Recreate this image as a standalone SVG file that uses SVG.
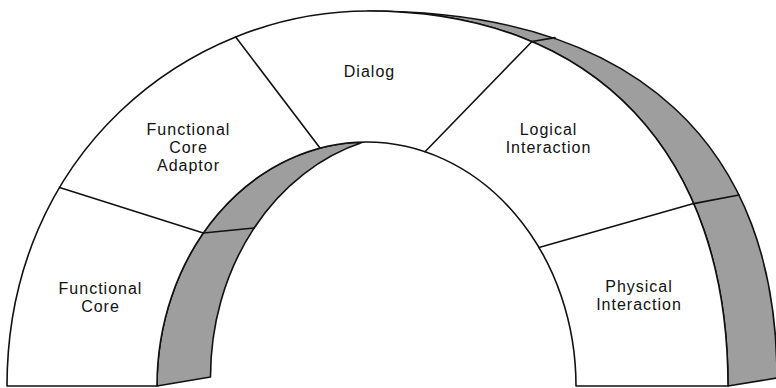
<svg xmlns="http://www.w3.org/2000/svg" width="776" height="388" viewBox="0 0 776 388">
  <style>
    .edge { fill: none; stroke: #111; stroke-width: 1.6; stroke-linejoin: round; stroke-linecap: round; }
    .band { fill: #9e9e9e; stroke: #111; stroke-width: 1.6; stroke-linejoin: round; }
    .face { fill: #ffffff; stroke: #111; stroke-width: 1.6; stroke-linejoin: round; }
    .lbl { font-family: "Liberation Sans", Arial, Helvetica, sans-serif; font-size: 16px; letter-spacing: 1px; fill: #111; text-anchor: middle; }
  </style>
  <rect width="776" height="388" fill="#ffffff"/>

  <g id="arch">
    <!-- shaded side surfaces -->
    <path class="band" d="M157,386 A209.5,244 0 0 1 363.5,142.1 A209.5,244 0 0 0 210.5,377 Z"/>
    <path class="band" d="M368,11 C598,11 728,156 728,386 L777,378 C777,148 640,11 368,11 Z"/>
    <!-- front face -->
    <path class="face" d="M7,386 C7,154 188,11 368,11 C598,11 728,156 728,386 L576,386 A209.5,244 0 0 0 157,386 Z"/>
  </g>

  <g id="connectors">
    <line class="edge" x1="59.6" y1="187.6" x2="203.3" y2="233"/>
    <line class="edge" x1="235.7" y1="37" x2="320" y2="148"/>
    <line class="edge" x1="532" y1="41.5" x2="425" y2="151.7"/>
    <line class="edge" x1="693.6" y1="203.6" x2="539" y2="247.5"/>
    <line class="edge" x1="203.3" y1="233" x2="254" y2="228"/>
    <line class="edge" x1="532" y1="41.5" x2="555" y2="37.6"/>
    <line class="edge" x1="693.6" y1="203.6" x2="739" y2="195"/>
  </g>

  <g id="functional-core">
    <text class="lbl" x="100.5" y="294">Functional</text>
    <text class="lbl" x="100.5" y="312">Core</text>
  </g>
  <g id="functional-core-adaptor">
    <text class="lbl" x="188.5" y="135">Functional</text>
    <text class="lbl" x="188.5" y="153">Core</text>
    <text class="lbl" x="188.5" y="171">Adaptor</text>
  </g>
  <g id="dialog">
    <text class="lbl" x="369.5" y="77">Dialog</text>
  </g>
  <g id="logical-interaction">
    <text class="lbl" x="548.5" y="135">Logical</text>
    <text class="lbl" x="548.5" y="153">Interaction</text>
  </g>
  <g id="physical-interaction">
    <text class="lbl" x="639" y="292">Physical</text>
    <text class="lbl" x="639" y="310">Interaction</text>
  </g>
</svg>
